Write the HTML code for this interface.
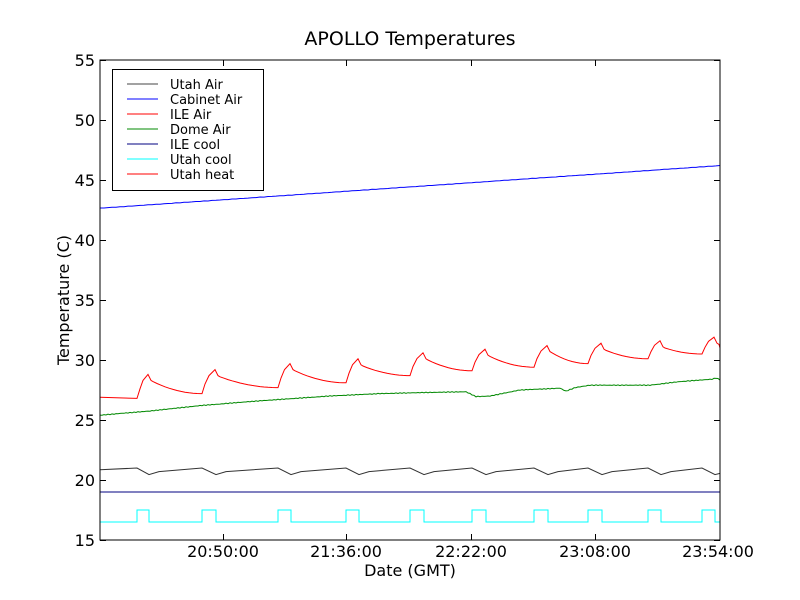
<!DOCTYPE html>
<html><head><meta charset="utf-8"><style>body{margin:0;background:#fff}svg{display:block}text{font-family:"DejaVu Sans","Liberation Sans",sans-serif}</style></head>
<body>
<svg id="s" width="800" height="600" xmlns="http://www.w3.org/2000/svg">
<rect width="800" height="600" fill="#fff"/>
<text x="410" y="45" font-size="19" text-anchor="middle">APOLLO Temperatures</text>
<g id="plot"></g>
<rect x="100" y="60" width="620" height="480" fill="none" stroke="#000" stroke-width="1"/>
<g font-size="16" text-anchor="end">
<text x="95" y="546">15</text><text x="95" y="486">20</text><text x="95" y="426">25</text><text x="95" y="366">30</text><text x="95" y="306">35</text><text x="95" y="246">40</text><text x="95" y="186">45</text><text x="95" y="126">50</text><text x="95" y="66">55</text>
</g>
<g font-size="16" text-anchor="middle">
<text x="223" y="557">20:50:00</text><text x="346" y="557">21:36:00</text><text x="471" y="557">22:22:00</text><text x="595" y="557">23:08:00</text><text x="718" y="557">23:54:00</text>
<text x="410" y="576">Date (GMT)</text>
</g>
<text transform="translate(69,300) rotate(-90)" font-size="16" text-anchor="middle">Temperature (C)</text>
<g id="ticks" stroke="#000" stroke-width="1"></g>
<rect x="112.5" y="69.5" width="151" height="121" fill="#fff" stroke="#000"/>
<g font-size="13">
<line x1="127" x2="158" y1="84" y2="84" stroke="#444"/><text x="170" y="89">Utah Air</text>
<line x1="127" x2="158" y1="99" y2="99" stroke="#00f"/><text x="170" y="104">Cabinet Air</text>
<line x1="127" x2="158" y1="114" y2="114" stroke="#f00"/><text x="170" y="119">ILE Air</text>
<line x1="127" x2="158" y1="129" y2="129" stroke="#080"/><text x="170" y="134">Dome Air</text>
<line x1="127" x2="158" y1="144" y2="144" stroke="#000080"/><text x="170" y="149">ILE cool</text>
<line x1="127" x2="158" y1="159" y2="159" stroke="#0ff"/><text x="170" y="164">Utah cool</text>
<line x1="127" x2="158" y1="174" y2="174" stroke="#f00"/><text x="170" y="179">Utah heat</text>
</g>
</svg>
<script>
var NS="http://www.w3.org/2000/svg";
function Y(v){return 540-(v-15)*12;}
function path(pts,c){var p=document.createElementNS(NS,"path");p.setAttribute("d","M"+pts.map(function(q){return q[0].toFixed(1)+","+q[1].toFixed(1)}).join("L"));p.setAttribute("fill","none");p.setAttribute("stroke",c);p.setAttribute("stroke-width","1");document.getElementById("plot").appendChild(p);}
var pulses=[[137,149],[202,216],[278,291],[346,359],[410,424],[472,486],[534,548],[588,602],[648,661],[702,715]];
var base=[26.8,27.2,27.7,28.1,28.7,29.1,29.4,29.7,30.1,30.5];
var peak=[28.8,29.2,29.7,30.1,30.6,30.9,31.2,31.4,31.6,31.9];
var c=[[100,Y(16.5)]];pulses.forEach(function(p){c.push([p[0],Y(16.5)],[p[0],Y(17.5)],[p[1],Y(17.5)],[p[1],Y(16.5)]);});c.push([718,Y(16.5)],[718,Y(17.5)],[720,Y(17.5)]);
c=c.slice(0,c.length-3);c.push([718,Y(16.5)]);c.push([720,Y(16.5)]);
path(c,"#0ff");
path([[100,Y(19)],[720,Y(19)]],"#000080");
var r=[[100,Y(26.9)]];
for(var i=0;i<pulses.length;i++){var p=pulses[i];
 if(i>0){var prevEnd=pulses[i-1][1]+4,st=peak[i-1]-0.6;for(var x=prevEnd;x<p[0];x+=4){var t=(x-prevEnd)/(p[0]-prevEnd);r.push([x,Y(st-(st-base[i])*(1-Math.pow(1-t,2)))]);}}
 r.push([p[0],Y(base[i])]);r.push([p[0]+3,Y(base[i]+(peak[i]-base[i])*0.4)]);r.push([p[0]+(p[1]-p[0])*0.5,Y(base[i]+(peak[i]-base[i])*0.75)]);r.push([p[1]-1,Y(peak[i])]);r.push([p[1]+2,Y(peak[i]-0.5)]);r.push([p[1]+4,Y(peak[i]-0.6)]);}
r.push([720,Y(31.0)]);
path(r,"#f00");
var gk=[[100,25.4],[150,25.75],[200,26.2],[260,26.6],[330,27.0],[380,27.2],[430,27.3],[466,27.35],[476,26.95],[490,27.0],[520,27.5],[560,27.65],[566,27.4],[575,27.7],[590,27.9],[650,27.9],[680,28.2],[712,28.4],[716,28.5],[720,28.35]];
function gi(x){for(var k=0;k<gk.length-1;k++){if(x<=gk[k+1][0]){var t=(x-gk[k][0])/(gk[k+1][0]-gk[k][0]);return gk[k][1]+t*(gk[k+1][1]-gk[k][1]);}}return gk[gk.length-1][1];}
var g=[];for(var x=100;x<=720;x+=2){g.push([x,Y(gi(x)+0.03*Math.sin(x*1.7))]);}
path(g,"#080");
var u=[[100,Y(20.85)]];for(var i=0;i<pulses.length;i++){var p=pulses[i];u.push([p[0],Y(21.0)]);u.push([p[1],Y(20.45)]);if(i<pulses.length-1)u.push([p[1]+10,Y(20.7)]);}u.push([720,Y(20.55)]);
path(u,"#333");
var b=[];for(var x=100;x<=720;x+=4){b.push([x,Y(42.65+3.55*(x-100)/620+0.015*Math.sin(x*0.9))]);}
path(b,"#00f");
var tk=document.getElementById("ticks");
function ln(x1,y1,x2,y2){var l=document.createElementNS(NS,"line");l.setAttribute("x1",x1);l.setAttribute("y1",y1);l.setAttribute("x2",x2);l.setAttribute("y2",y2);tk.appendChild(l);}
for(var v=15;v<=55;v+=5){var y=Y(v)+0.5;ln(100,y,106,y);ln(714,y,720,y);}
[223,346,471,595].forEach(function(x){ln(x+.5,540,x+.5,534);ln(x+.5,60,x+.5,66);});
</script>
</body></html>
